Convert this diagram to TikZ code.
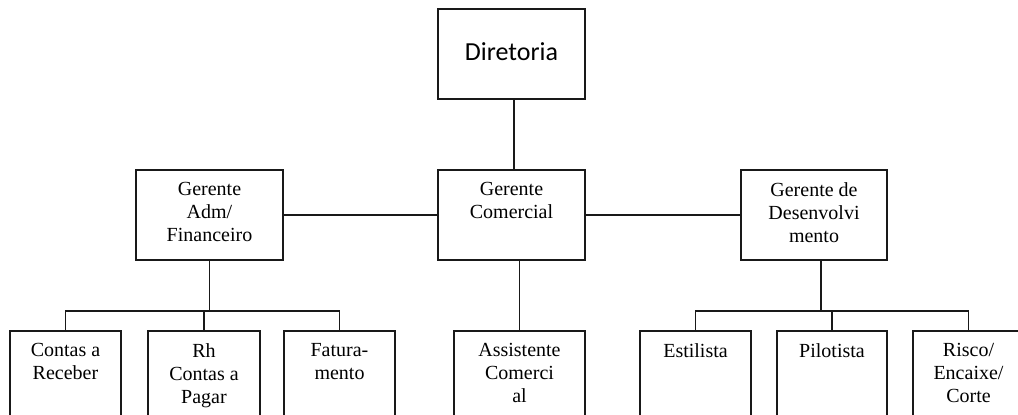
\documentclass[tikz,border=0pt]{standalone}
\usepackage{fontspec}
\setmainfont{Liberation Serif}
\newfontfamily\diretfont{Carlito}
\begin{document}
\begin{tikzpicture}[x=1pt,y=-1pt,
  box/.style={draw=black!90, line width=1.6pt, rectangle, inner sep=0pt},
  txt/.style={anchor=north, inner sep=0pt, align=center, font=\fontsize{20}{23}\selectfont, text=black},
  conn/.style={draw=black!90, line width=1.6pt}]
\useasboundingbox (0,0) rectangle (1018,415);
\clip (0,0) rectangle (1018,415);
% top
\node[box, minimum width=147pt, minimum height=90pt] (dir) at (511.5,54) {};
\node[inner sep=0pt, font=\diretfont\fontsize{26}{30}\selectfont] (dirt) at (511.5,52) {Diretoria};
% middle row
\node[box, minimum width=147pt, minimum height=90pt] (adm) at (209.5,215) {};
\node[box, minimum width=147pt, minimum height=90pt] (com) at (511.5,215) {};
\node[box, minimum width=146pt, minimum height=90pt] (des) at (814,215) {};
\node[txt] (admt) at ([yshift=-13pt]adm.north) {Gerente\\Adm/\\Financeiro};
\node[txt] (comt) at ([yshift=-13pt]com.north) {Gerente\\Comercial};
\node[txt] (dest) at ([yshift=-13pt]des.north) {Gerente de\\Desenvolvi\\mento};
% bottom row
\node[box, minimum width=111pt, minimum height=109pt] (cr) at (65.5,385.5) {};
\node[box, minimum width=112pt, minimum height=109pt] (rh) at (204,385.5) {};
\node[box, minimum width=111pt, minimum height=109pt] (fat) at (339.5,385.5) {};
\node[box, minimum width=131pt, minimum height=109pt] (ass) at (519.5,385.5) {};
\node[box, minimum width=111pt, minimum height=109pt] (est) at (695.5,385.5) {};
\node[box, minimum width=110pt, minimum height=109pt] (pil) at (832,385.5) {};
\node[box, minimum width=111pt, minimum height=109pt] (ris) at (968.5,385.5) {};
\node[txt] (crt) at ([yshift=-13pt]cr.north) {Contas a\\Receber};
\node[txt] (rht) at ([yshift=-13pt]rh.north) {Rh\\Contas a\\Pagar};
\node[txt] (fatt) at ([yshift=-13pt]fat.north) {Fatura-\\mento};
\node[txt] (asst) at ([yshift=-13pt]ass.north) {Assistente\\Comerci\\al};
\node[txt] (estt) at ([yshift=-13pt]est.north) {Estilista};
\node[txt] (pilt) at ([yshift=-13pt]pil.north) {Pilotista};
\node[txt] (rist) at ([yshift=-13pt]ris.north) {Risco/\\Encaixe/\\Corte};
% connectors
\coordinate (dirdown) at ([xshift=2.5pt]dir.south);
\draw[conn] (dirdown) -- (dirdown |- com.north);
\draw[conn] (adm.east) -- (com.west);
\draw[conn] (com.east) -- (des.west);
\coordinate (admbus) at ([yshift=-50pt]adm.south);
\draw[conn] (adm.south) -- (admbus);
\draw[conn] (cr.north) -- (cr.north |- admbus) -| (fat.north);
\draw[conn] (rh.north |- admbus) -- (rh.north);
\draw[conn] (ass.north) -- (ass.north |- com.south);
\coordinate (desdown) at ([xshift=7pt]des.south);
\coordinate (desbus) at ([yshift=-50pt]desdown);
\draw[conn] (desdown) -- (desbus);
\draw[conn] (est.north) -- (est.north |- desbus) -| (ris.north);
\draw[conn] (pil.north |- desbus) -- (pil.north);
\end{tikzpicture}
\end{document}
